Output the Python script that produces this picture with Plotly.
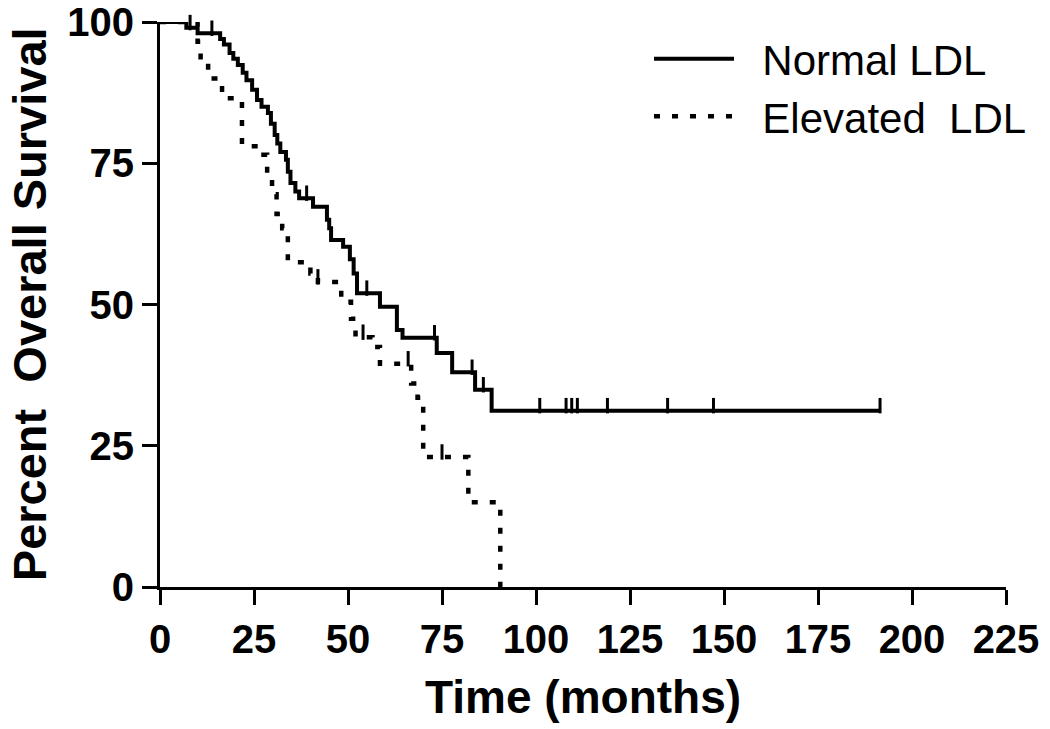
import numpy as np
import plotly.graph_objects as go

# ---- data (Kaplan-Meier style steps) ----
normal_times = [0, 7, 10, 16, 17, 18.5, 19.5, 20.7, 22, 23, 24.5, 25.8, 27, 28.7, 29.5, 30.5,
                31.2, 32, 33.5, 34, 34.7, 36, 37, 40.7, 44.4, 45, 45.5, 48.7, 50.5, 51.5, 52.4,
                58.5, 63, 64.5, 73.6, 77.7, 83.8, 88.2, 191.5]
normal_surv = [100, 99, 98, 97, 96, 94.5, 93.5, 92.4, 91, 89.7, 88, 86.2, 85, 83.9, 82, 80,
               78.5, 77, 75.6, 73.5, 71.5, 70, 68.8, 67.3, 65, 63.5, 61.4, 60.2, 58, 55.5, 52,
               49.6, 45.5, 44.1, 41.4, 38, 34.9, 31.2, 31.2]
normal_censor = [0.8, 4, 5, 6, 8, 13.8, 39, 55, 73, 83, 86, 101, 108, 109.5, 111, 119, 135, 147.2, 191.5]

elev_times = [0, 10, 10.8, 12.8, 16.5, 21.8, 26, 28.5, 29.8, 31, 32.5, 34, 40, 42, 48.2, 50.8,
              52, 56.5, 58.5, 66.8, 68.5, 70, 82, 90.5]
elev_surv = [100, 96.5, 93, 90, 86.5, 78, 76.5, 73, 69.5, 66, 63.5, 57.5, 55.5, 54, 50.5, 47.5,
             44.2, 42.5, 39.5, 36, 33.5, 23, 15, 0]
elev_censor = [42, 54, 66, 75]

x_ticks = [0, 25, 50, 75, 100, 125, 150, 175, 200, 225]
y_ticks = [0, 25, 50, 75, 100]

series_names = ["Normal LDL", "Elevated  LDL"]


def level_at(times, surv, t):
    idx = np.searchsorted(np.array(times), t, side="right") - 1
    return np.array(surv)[idx]


TICK_LIFT = 0.9  # small upward offset (data units) so censor ticks sit on top of the line
PAD = "\u00a0\u00a0"  # visual gap between legend sample and its label

fig = go.Figure()

fig.add_trace(go.Scatter(
    x=normal_times, y=normal_surv, mode="lines", line_shape="hv",
    line=dict(color="black", width=4), name=PAD + series_names[0], cliponaxis=False))
fig.add_trace(go.Scatter(
    x=elev_times, y=elev_surv, mode="lines", line_shape="hv",
    line=dict(color="black", width=4.5, dash="6px,12px"), name=PAD + series_names[1],
    cliponaxis=False))

for times, surv, cens in [(normal_times, normal_surv, normal_censor),
                          (elev_times, elev_surv, elev_censor)]:
    lv = np.array([level_at(times, surv, c) for c in cens]) + TICK_LIFT
    fig.add_trace(go.Scatter(
        x=cens, y=lv, mode="markers", showlegend=False, cliponaxis=False,
        marker=dict(symbol="line-ns", size=11, line=dict(color="black", width=3))))

axis_common = dict(showline=True, linecolor="black", linewidth=3, ticks="outside",
                   ticklen=15, tickwidth=3, tickcolor="black", showgrid=False, zeroline=False,
                   automargin=False, ticklabeloverflow="allow",
                   tickfont=dict(family="Liberation Sans", size=40, color="black", weight="bold"))

fig.update_xaxes(range=[0, 225], tickvals=x_ticks, ticktext=[str(v) for v in x_ticks], **axis_common)
fig.update_yaxes(range=[0, 100], tickvals=y_ticks, ticktext=[str(v) for v in y_ticks], **axis_common)

fig.add_annotation(text="Time (months)", xref="paper", yref="paper", x=0.5, y=-0.195,
                   xanchor="center", yanchor="middle", showarrow=False,
                   font=dict(family="Liberation Sans", size=46, color="black", weight="bold"))
fig.add_annotation(text="Percent\u00a0 Overall Survival", xref="paper", yref="paper",
                   x=-0.154, y=0.5, xanchor="center", yanchor="middle", textangle=-90,
                   showarrow=False,
                   font=dict(family="Liberation Sans", size=47, color="black", weight="bold"))

fig.update_layout(
    width=1050, height=729,
    margin=dict(l=152, r=52, t=14, b=150),
    plot_bgcolor="white", paper_bgcolor="white",
    legend=dict(x=0.578, y=0.995, xanchor="left", yanchor="top", itemwidth=80,
                font=dict(family="Liberation Sans", size=42, color="black"),
                bgcolor="rgba(0,0,0,0)", tracegroupgap=22),
)

fig.write_html("out.html")
